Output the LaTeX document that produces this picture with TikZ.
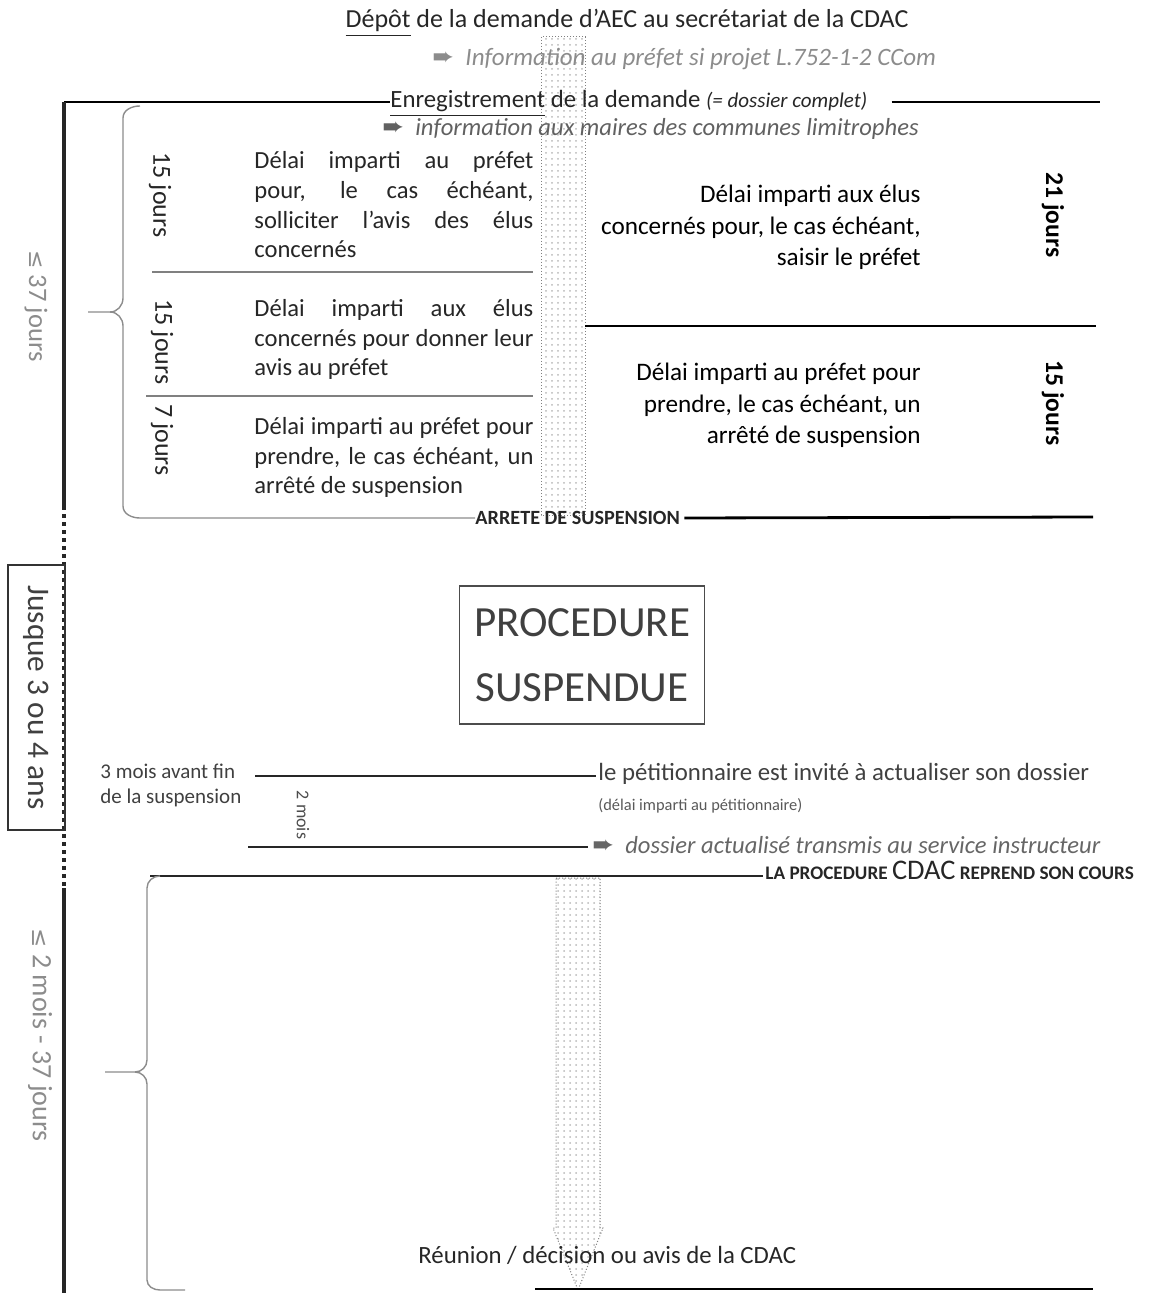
\documentclass[tikz,border=0pt]{standalone}
\usepackage{fontspec}
\setmainfont{Carlito}
\newfontfamily\dejavu{DejaVu Sans}
\usetikzlibrary{patterns,calc}
\newcommand{\jline}[1]{\makebox[139.5pt][s]{#1}}
\newcommand{\arr}{{\dejavu\upshape\fontsize{13}{14}\selectfont ➨}}
\begin{document}
\begin{tikzpicture}[x=0.5pt,y=-0.5pt]
\tikzset{
  txt/.style={inner sep=0, text=black!85, font=\fontsize{12.3}{14.85}\selectfont},
  rtxt/.style={inner sep=0, text=black, align=right, font=\fontsize{12.6}{15.75}\selectfont},
  gtxt/.style={inner sep=0, text=black!55, font=\fontsize{12.3}{14}\selectfont\itshape},
  heavy/.style={line width=1.4pt, black},
  mid/.style={line width=1pt, black!85},
  sep/.style={line width=0.6pt, black!50},
  bracestyle/.style={line width=0.7pt, black!45},
  column/.style={draw=black!50, densely dotted, line width=0.5pt, pattern=dots, pattern color=black!28},
  rot/.style={rotate=-90, inner sep=0},
}
\useasboundingbox (0,0) rectangle (1172,1293);

% shaded columns (behind)
\path[column] (541,37) rectangle (585,515);
\path[column] (556,878) -- (600,878) -- (600,1228) -- (603,1228) -- (578,1290) -- (553,1228) -- (556,1228) -- cycle;

% top texts
\node[txt, anchor=base, font=\fontsize{13}{15}\selectfont] (depot) at (627,28) {\underline{Dépôt} de la demande d’AEC au secrétariat de la CDAC};
\node[gtxt, anchor=base west, text=black!45, font=\fontsize{12.5}{14}\selectfont\itshape] (infoprefet) at (432,66) {\arr\ \ Information au préfet si projet L.752-1-2 CCom};
\node[txt, anchor=base west, font=\fontsize{12.4}{14}\selectfont] (enreg) at (390,108) {\underline{Enregistrement} de la demande {\fontsize{10.5}{12}\selectfont\itshape (= dossier complet)}};
\coordinate (tl) at (64,102);
\coordinate (tr) at (1100,102);
\draw[heavy] (tl) -- (tl -| enreg.west);
\draw[heavy] ($(tr -| enreg.east)+(24,0)$) -- (tr);
\node[gtxt, anchor=base west, text=black!62] (maires) at (382,136) {\arr\ \ information aux maires des communes limitrophes};

% left block
\node[txt, anchor=base west, align=left] (l1) at (254,258) {\jline{Délai imparti au préfet}\\\jline{pour, le cas échéant,}\\\jline{solliciter l’avis des élus}\\concernés};
\node[txt, anchor=base west, align=left] (l2) at (254,376) {\jline{Délai imparti aux élus}\\\jline{concernés pour donner leur}\\avis au préfet};
\node[txt, anchor=base west, align=left] (l3) at (254,494) {\jline{Délai imparti au préfet pour}\\\jline{prendre, le cas échéant, un}\\arrêté de suspension};
\node[txt, rot, font=\fontsize{13}{15}\selectfont] (j1) at (160,195) {15 jours};
\node[txt, rot, font=\fontsize{13}{15}\selectfont] (j2) at (162,342) {15 jours};
\node[txt, rot, font=\fontsize{13}{15}\selectfont] (j3) at (162,440) {7 jours};
\coordinate (s1a) at (152,272); \coordinate (s1b) at (533,272);
\coordinate (s2a) at (146,396); \coordinate (s2b) at (533,396);
\draw[sep] (s1a) -- (s1b);
\draw[sep] (s2a) -- (s2b);

% right block
\node[rtxt, anchor=base east] (r1) at (921,266) {Délai imparti aux élus\\concernés pour, le cas échéant,\\saisir le préfet};
\node[rtxt, anchor=base east] (r2) at (921,444) {Délai imparti au préfet pour\\prendre, le cas échéant, un\\arrêté de suspension};
\node[txt, rot, text=black, font=\fontsize{12.8}{14}\selectfont\bfseries] (j21) at (1053,215) {21 jours};
\node[txt, rot, text=black, font=\fontsize{12.8}{14}\selectfont\bfseries] (j15) at (1053,403) {15 jours};
\coordinate (ra) at (585,326); \coordinate (rb) at (1096,326);
\draw[heavy] (ra) -- (rb);

% first brace and suspension line
\node[inner sep=0, anchor=west, font=\fontsize{10.1}{11}\selectfont\bfseries, text=black!85] (arrete) at (475,518) {ARRETE DE SUSPENSION};
\coordinate (b1tip) at (88,312);
\coordinate (ae) at (1093,517);
\draw[bracestyle] (140,106) to[out=180,in=90] (123,118) -- (123,298) to[out=-90,in=0] (110,312) -- (b1tip);
\draw[bracestyle] (110,312) to[out=0,in=90] (123,326) -- (123,506) to[out=-90,in=180] (140,518) -- (arrete.west);
\draw[heavy] ([xshift=2pt]arrete.east) -- (ae);

% procedure suspendue
\node[draw=black!70, line width=0.8pt, minimum width=122.5pt, minimum height=69pt, align=center, font=\fontsize{21.5}{32.5}\selectfont, text=black!75] (proc) at (582,655) {PROCEDURE\\SUSPENDUE};

% left timeline
\coordinate (c0) at (64,102); \coordinate (c1) at (64,506);
\coordinate (c2) at (64,888); \coordinate (c3) at (64,1293);
\draw[line width=2pt, black!85] (c0) -- (c1);
\draw[line width=2pt, black!85, dash pattern=on 2pt off 2pt] (c1) -- (c2);
\draw[line width=2pt, black!85] (c2) -- (c3);
\node[draw=black!80, line width=1pt, rotate=-90, minimum width=132.5pt, minimum height=28.5pt, inner sep=0, text=black!75, font=\fontsize{15.7}{17}\selectfont] (jusque) at (36.5,697.5) {Jusque 3 ou 4 ans};
\node[rot, text=black!45, font=\fontsize{13.3}{15}\selectfont] (le37) at (36,306) {{\dejavu\fontsize{11}{13}\selectfont ≤} 37 jours};
\node[rot, text=black!45, font=\fontsize{14}{16}\selectfont] (le2m) at (40,1035) {{\dejavu\fontsize{11.5}{13}\selectfont ≤} 2 mois - 37 jours};

% middle section
\node[inner sep=0, anchor=base west, align=left, font=\fontsize{10.5}{12.5}\selectfont, text=black!75] (troismois) at (100,803) {3 mois avant fin\\de la suspension};
\node[inner sep=0, anchor=west, font=\fontsize{12.4}{14}\selectfont, text=black!75] (petit) at (598,774) {le pétitionnaire est invité à actualiser son dossier};
\coordinate (m1) at (255,776);
\draw[mid] (m1) -- ([xshift=-1pt]m1 -| petit.west);
\node[inner sep=0, anchor=west, font=\fontsize{8.2}{9}\selectfont, text=black!65] (delai) at (598,806) {(délai imparti au pétitionnaire)};
\node[gtxt, anchor=west, text=black!60] (transmis) at (592,845) {\arr\ \ dossier actualisé transmis au service instructeur};
\coordinate (m2) at (248,847);
\draw[mid] (m2) -- ([xshift=-2pt]m2 -| transmis.west);
\node[rot, font=\fontsize{9}{10}\selectfont, text=black!70] (deuxmois) at (303,815) {2 mois};

\node[inner sep=0, anchor=west, text=black!85] (reprend) at (765,870) {\fontsize{9.6}{11}\selectfont\bfseries LA PROCEDURE {\fontsize{14.2}{16}\selectfont\mdseries CDAC} REPREND SON COURS};
\coordinate (b2top) at (150,876);
\draw[mid] (b2top) -- ([xshift=-1pt]b2top -| reprend.west);

% second brace
\coordinate (b2tip) at (105,1072);
\draw[bracestyle] (160,876) to[out=180,in=90] (147,888) -- (147,1060) to[out=-90,in=0] (135,1072) -- (b2tip);
\draw[bracestyle] (135,1072) to[out=0,in=90] (147,1084) -- (147,1280) to[out=-90,in=180] (160,1290) -- (185,1290);

% bottom
\node[txt, anchor=base west, font=\fontsize{12.4}{14}\selectfont] (reunion) at (418,1263) {Réunion / décision ou avis de la CDAC};
\coordinate (bl) at (535,1289); \coordinate (br) at (1093,1289);
\draw[heavy] (bl) -- (br);
\end{tikzpicture}
\end{document}
